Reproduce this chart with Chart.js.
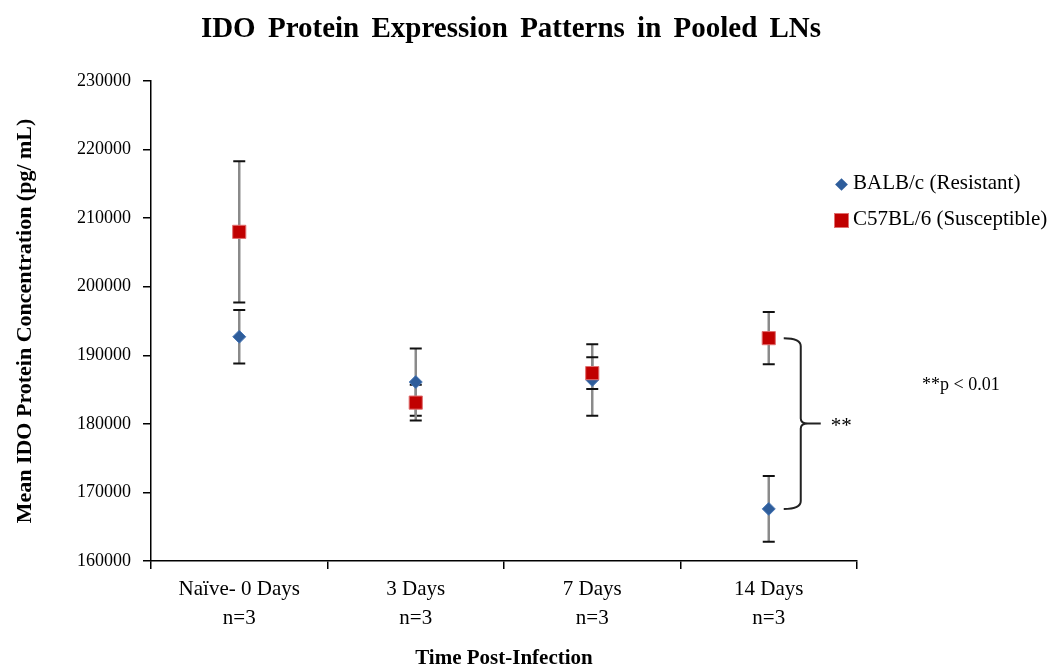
<!DOCTYPE html>
<html lang="en">
<head>
  <meta charset="UTF-8">
  <title>IDO Protein Expression Patterns in Pooled LNs</title>
  <script src="https://cdn.jsdelivr.net/npm/chart.js"></script>
  <style>
    body { margin: 0; background: #fff; font-family: "Liberation Serif", "Times New Roman", serif; }
    #wrap { position: relative; width: 1058px; height: 669px; }
    #chart { position: absolute; left: 0; top: 0; }
    .title { position: absolute; left: 0; width: 1022px; top: 10px; line-height: 34px; text-align: center;
             font-size: 29px; font-weight: bold; word-spacing: 5px; }
    .legend { position: absolute; left: 834px; font-size: 21px; line-height: 26px; white-space: nowrap; }
    .legend .mk { display: inline-block; vertical-align: middle; margin-right: 5px; }
    .diamond { width: 9px; height: 9px; background: #2e5d9b; transform: rotate(45deg); margin-left: 3px; margin-right: 7px !important; }
    .square { width: 13px; height: 13px; background: #c00000; box-shadow: 0 0 0 1px #e07070; margin-left: 1px; }
    .note { position: absolute; left: 922px; top: 372px; font-size: 18px; line-height: 24px; }
  </style>
</head>
<body>
  <div id="wrap">
    <canvas id="chart" width="1058" height="669"></canvas>
    <div class="title">IDO Protein Expression Patterns in Pooled LNs</div>
    <div class="legend" style="top:169px"><span class="mk diamond"></span>BALB/c (Resistant)</div>
    <div class="legend" style="top:205px"><span class="mk square"></span>C57BL/6 (Susceptible)</div>
    <div class="note">**p &lt; 0.01</div>
  </div>

  <script>
    const categories = [['Naïve- 0 Days', 'n=3'], ['3 Days', 'n=3'], ['7 Days', 'n=3'], ['14 Days', 'n=3']];
    const balbMean = [192700, 186100, 186400, 167600];
    const balbErr = [3900, 4900, 5200, 4800];
    const c57Mean = [208000, 183100, 187400, 192500];
    const c57Err = [10300, 2600, 2300, 3800];
    const yTicks = [160000, 170000, 180000, 190000, 200000, 210000, 220000, 230000];

    const errors = [balbErr, c57Err];

    // error bars under the markers
    const errorBars = {
      id: 'errorBars',
      beforeDatasetsDraw(chart) {
        const {ctx, scales: {x, y}} = chart;
        ctx.save();
        chart.data.datasets.forEach((ds, d) => {
          ds.data.forEach((v, i) => {
            const px = x.getPixelForValue(i);
            const top = y.getPixelForValue(v + errors[d][i]);
            const bot = y.getPixelForValue(v - errors[d][i]);
            ctx.strokeStyle = '#8a8a8a';
            ctx.lineWidth = 2.5;
            ctx.beginPath();
            ctx.moveTo(px, top);
            ctx.lineTo(px, bot);
            ctx.stroke();
            ctx.strokeStyle = '#111';
            ctx.lineWidth = 2;
            ctx.beginPath();
            ctx.moveTo(px - 6, top); ctx.lineTo(px + 6, top);
            ctx.moveTo(px - 6, bot); ctx.lineTo(px + 6, bot);
            ctx.stroke();
          });
        });
        ctx.restore();
      }
    };

    // significance brace at 14 days
    const brace = {
      id: 'brace',
      afterDatasetsDraw(chart) {
        const {ctx, scales: {x, y}} = chart;
        const i = 3;
        const px = x.getPixelForValue(i);
        const yTop = y.getPixelForValue(c57Mean[i]);
        const yBot = y.getPixelForValue(balbMean[i]);
        const yMid = (yTop + yBot) / 2;
        const x0 = px + 15, xv = px + 32, xt = px + 52;
        ctx.save();
        ctx.strokeStyle = '#222';
        ctx.lineWidth = 2;
        ctx.beginPath();
        ctx.moveTo(x0, yTop);
        ctx.quadraticCurveTo(xv, yTop, xv, yTop + 8);
        ctx.lineTo(xv, yMid - 5);
        ctx.quadraticCurveTo(xv, yMid, xv + 7, yMid);
        ctx.lineTo(xt, yMid);
        ctx.moveTo(xv + 7, yMid);
        ctx.quadraticCurveTo(xv, yMid, xv, yMid + 5);
        ctx.lineTo(xv, yBot - 8);
        ctx.quadraticCurveTo(xv, yBot, x0, yBot);
        ctx.stroke();
        ctx.fillStyle = '#000';
        ctx.font = '21px "Liberation Serif"';
        ctx.textBaseline = 'middle';
        ctx.fillText('**', xt + 10, yMid + 3);
        ctx.restore();
      }
    };

    new Chart(document.getElementById('chart'), {
      type: 'line',
      data: {
        labels: categories,
        datasets: [
          {
            label: 'BALB/c (Resistant)',
            data: balbMean,
            showLine: false,
            pointStyle: 'rectRot',
            pointRadius: 6.5,
            pointBackgroundColor: '#2e5d9b',
            pointBorderColor: '#4a78b5',
            pointBorderWidth: 1,
            order: 1
          },
          {
            label: 'C57BL/6 (Susceptible)',
            data: c57Mean,
            showLine: false,
            pointStyle: 'rect',
            pointRadius: 9.3,
            pointBackgroundColor: '#c00000',
            pointBorderColor: '#e07070',
            pointBorderWidth: 1,
            order: 0
          }
        ]
      },
      options: {
        responsive: false,
        animation: false,
        layout: { padding: { top: 81, right: 201, left: 0, bottom: 0 } },
        font: { family: '"Liberation Serif", "Times New Roman", serif' },
        plugins: {
          legend: { display: false },
          tooltip: { enabled: false }
        },
        scales: {
          x: {
            offset: true,
            grid: { offset: true, drawOnChartArea: false, color: '#000', lineWidth: 1.5, tickLength: 8 },
            border: { color: '#000', width: 1.5 },
            ticks: {
              color: '#000', padding: 5.5,
              font: { family: '"Liberation Serif"', size: 21, lineHeight: 29 / 21 }
            },
            title: {
              display: true, text: 'Time Post-Infection', color: '#000',
              padding: { top: 0, bottom: 0 },
              font: { family: '"Liberation Serif"', size: 21, weight: 'bold', lineHeight: 1 }
            },
            afterFit(scale) { scale.height = 108; }
          },
          y: {
            min: 160000,
            max: 230000,
            afterBuildTicks(scale) { scale.ticks = yTicks.map(v => ({ value: v })); },
            grid: { drawOnChartArea: false, color: '#000', lineWidth: 1.5, tickLength: 8 },
            border: { color: '#000', width: 1.5 },
            ticks: {
              color: '#000', padding: 12,
              font: { family: '"Liberation Serif"', size: 18 },
              callback: v => String(v)
            },
            title: {
              display: true, text: 'Mean IDO Protein Concentration (pg/ mL)', color: '#000',
              padding: { top: 14, bottom: 0 },
              font: { family: '"Liberation Serif"', size: 22, weight: 'bold', lineHeight: 1 }
            },
            afterFit(scale) { scale.width = 151; }
          }
        }
      },
      plugins: [errorBars, brace]
    });
  </script>
</body>
</html>
